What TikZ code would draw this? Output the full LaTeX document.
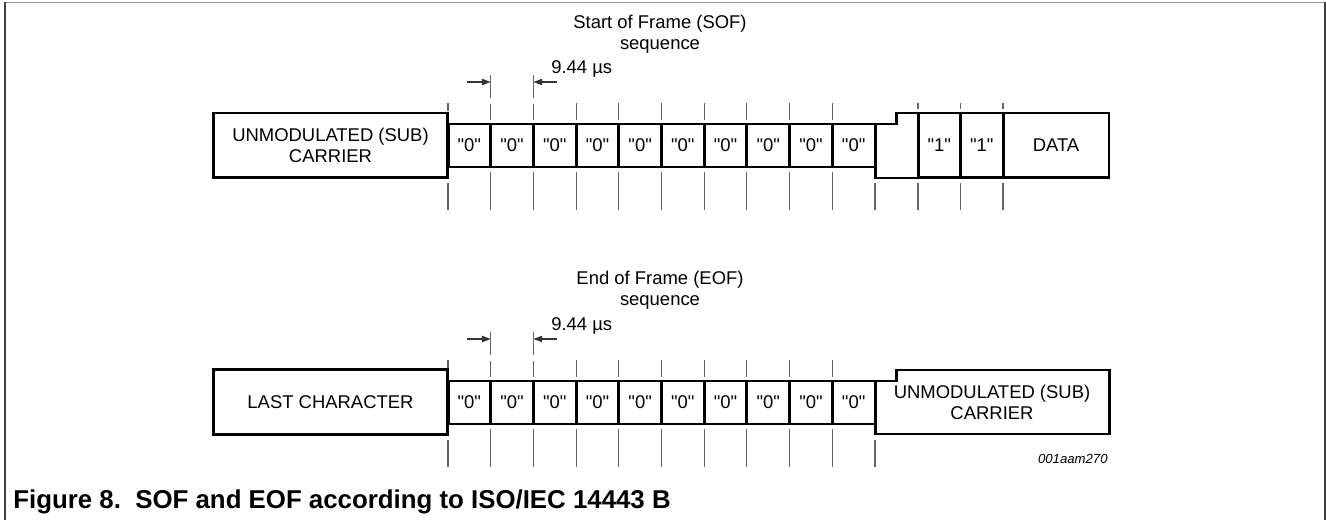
\documentclass[tikz,border=0pt]{standalone}
\usepackage{fontspec}
\setmainfont{Liberation Sans}[Ligatures=TeXOff]
\usetikzlibrary{arrows.meta}

\tikzset{
  frame/.style={line width=1.1pt, black!75},
  box/.style={line width=1.7pt},
  guide/.style={line width=0.65pt, black!60},
  dimarrow/.style={line width=0.65pt, black!80, -{Triangle[length=5pt,width=3.6pt]}},
  lbl/.style={font=\fontsize{10.5}{12}\selectfont, align=center, inner sep=0pt},
  cell/.style={lbl, draw, box, minimum width=0.854cm, minimum height=0.86cm},
  bigbox/.style={lbl, draw, box, minimum width=4.7cm, minimum height=1.3cm},
}

\begin{document}
\begin{tikzpicture}[x=0.02cm,y=-0.02cm]
\useasboundingbox (0,0) rectangle (1326,520);

% border
\draw[black!40, line width=1pt] (5,2.5) -- (1325,2.5);
\draw[frame] (5,2) -- (5,520);
\draw[frame] (1325,2) -- (1325,520);

% titles and first blocks
\node[lbl] (softitle) at (660,34) {Start of Frame (SOF)\\sequence};
\node[lbl] (eoftitle) at (660,290) {End of Frame (EOF)\\sequence};
\node[bigbox] (scarrier) at (330.5,145.5) {UNMODULATED (SUB)\\CARRIER};
\node[bigbox] (elast) at (330.5,402) {LAST CHARACTER};

% the ten "0" bits, same for both rows
\foreach \dy/\p in {0/s,257/e} {
  \begin{scope}[shift={(0,\dy)}]
    \foreach \i in {0,...,9}
      \node[cell] (\p z\i) at ({469.35+42.7*\i},145.5) {"0"};
    \node[lbl, anchor=west] (\p dim) at (551,69) {9.44 µs};
    \draw[dimarrow] (467,82) -- (490.7,82);
    \draw[dimarrow] (557,82) -- (533.4,82);
    \draw[guide] (448,103) -- (448,111);
    \foreach \x in {490.7,533.4}
      \draw[guide] (\x,75) -- (\x,98) (\x,104) -- (\x,120);
    \foreach \x in {576.1,618.8,661.5,704.2,746.9,789.6,832.3}
      \draw[guide] (\x,103) -- (\x,120);
    \foreach \x in {490.7,533.4,576.1,618.8,661.5,704.2,746.9,789.6,832.3}
      \draw[guide] (\x,172) -- (\x,210);
    \foreach \x in {448,875}
      \draw[guide] (\x,183) -- (\x,210);
  \end{scope}
}

% SOF end
\draw[box] (875,124) -- (896,124) -- (896,113) -- (918,113) -- (918,178) -- (875,178) -- cycle;
\node[cell, minimum width=0.85cm, minimum height=1.3cm] (sone1) at (939.25,145.5) {"1"};
\node[cell, minimum width=0.85cm, minimum height=1.3cm] (sone2) at (981.75,145.5) {"1"};
\node[cell, minimum width=2.12cm, minimum height=1.3cm] (sdata) at (1056,145.5) {DATA};
\foreach \x in {918,960.5,1003}
  \draw[guide] (\x,103) -- (\x,109) (\x,183) -- (\x,210);

% EOF end
\draw[box] (875,381) -- (896,381) -- (896,370) -- (1109,370) -- (1109,434) -- (875,434) -- cycle;
\node[lbl] (ecarrier) at (992,402) {UNMODULATED (SUB)\\CARRIER};

\node[anchor=east, inner sep=0pt, font=\itshape\fontsize{7.5}{9}\selectfont] (figid) at (1108,459) {001aam270};
\node[anchor=base west, inner sep=0pt, font=\bfseries\fontsize{14.7}{17}\selectfont] (caption) at (13,508) {Figure 8.\ \ SOF and EOF according to ISO/IEC 14443 B};

\end{tikzpicture}
\end{document}
